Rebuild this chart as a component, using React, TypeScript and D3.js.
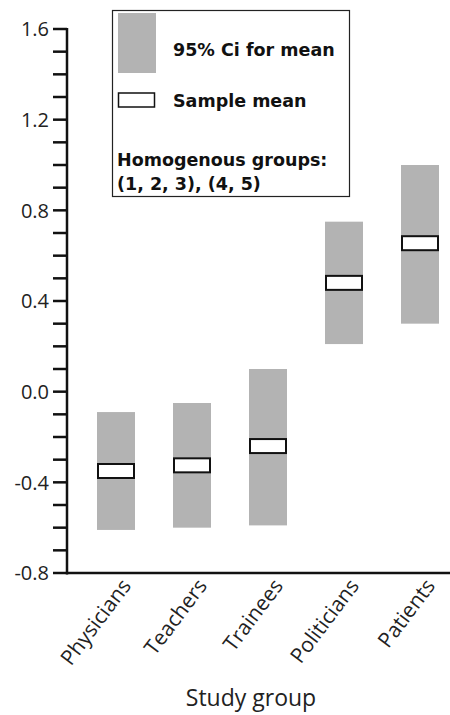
import React from "react";
import * as d3 from "d3";

const groups = ["Physicians", "Teachers", "Trainees", "Politicians", "Patients"];
const ciLow = [-0.61, -0.6, -0.59, 0.21, 0.3];
const ciHigh = [-0.09, -0.05, 0.1, 0.75, 1.0];
const means = [-0.35, -0.325, -0.24, 0.48, 0.655];
const majorTicks = [-0.8, -0.4, 0.0, 0.4, 0.8, 1.2, 1.6];
const tickLabels = ["-0.8", "-0.4", "0.0", "0.4", "0.8", "1.2", "1.6"];
const legendItems = ["95% Ci for mean", "Sample mean"];
const legendNote = ["Homogenous groups:", "(1, 2, 3), (4, 5)"];

const W = 450;
const H = 715;
const axisX = 67;
const yTop = 29;
const yBottom = 573;

export default function App() {
  const y = d3.scaleLinear().domain([-0.8, 1.6]).range([yBottom, yTop]);
  const x = d3.scalePoint<string>().domain(groups).range([116, 420]);
  const minor = d3.range(-8, 17).map((d) => d / 10);
  const barW = 38;
  const meanW = 36;
  const meanH = 14;
  const font = "'Open Sans', sans-serif";
  const legendFont = "'DejaVu Sans', sans-serif";

  return (
    <svg
      width={W}
      height={H}
      style={{ position: "absolute", left: 0, top: 0, display: "block" }}
      fontFamily={font}
    >
      <rect x={0} y={0} width={W} height={H} fill="#fff" />
      {/* bars */}
      {groups.map((g, i) => (
        <g key={g}>
          <rect
            x={x(g)! - barW / 2}
            y={y(ciHigh[i])}
            width={barW}
            height={y(ciLow[i]) - y(ciHigh[i])}
            fill="#b3b3b3"
          />
          <rect
            x={x(g)! - meanW / 2}
            y={y(means[i]) - meanH / 2}
            width={meanW}
            height={meanH}
            fill="#fff"
            stroke="#111"
            strokeWidth={2}
          />
        </g>
      ))}
      {/* y axis */}
      {minor.map((t) => (
        <line
          key={"m" + t}
          x1={axisX - 14}
          x2={axisX}
          y1={y(t)}
          y2={y(t)}
          stroke="#111"
          strokeWidth={2.5}
        />
      ))}
      <line x1={axisX} x2={axisX} y1={yTop - 1} y2={yBottom + 1.5} stroke="#111" strokeWidth={2.5} />
      {majorTicks.map((t, i) => (
        <text
          key={"l" + t}
          x={axisX - 18}
          y={y(t)}
          dy="0.36em"
          textAnchor="end"
          fontSize={20}
          fill="#222"
        >
          {tickLabels[i]}
        </text>
      ))}
      {/* x axis */}
      <line x1={axisX} x2={W} y1={yBottom} y2={yBottom} stroke="#111" strokeWidth={2.5} />
      {groups.map((g) => (
        <text
          key={"x" + g}
          transform={`translate(${x(g)! + 16},${yBottom + 13}) rotate(-53)`}
          textAnchor="end"
          fontSize={21}
          fill="#222"
        >
          {g}
        </text>
      ))}
      <text x={251} y={706} textAnchor="middle" fontSize={23} fill="#222">
        Study group
      </text>
      {/* legend */}
      <rect x={112.5} y={10.5} width={237} height={186} fill="#fff" stroke="#222" strokeWidth={1.2} />
      <rect x={118} y={13} width={38} height={60} fill="#b3b3b3" />
      <rect x={118.5} y={93} width={36} height={14} fill="#fff" stroke="#111" strokeWidth={1.5} />
      <g fontFamily={legendFont} fontWeight="bold" fontSize={17.5} fill="#111">
        <text x={173} y={56}>
          {legendItems[0]}
        </text>
        <text x={173} y={107}>
          {legendItems[1]}
        </text>
        <text x={117} y={166}>
          {legendNote[0]}
        </text>
        <text x={117} y={190}>
          {legendNote[1]}
        </text>
      </g>
    </svg>
  );
}
